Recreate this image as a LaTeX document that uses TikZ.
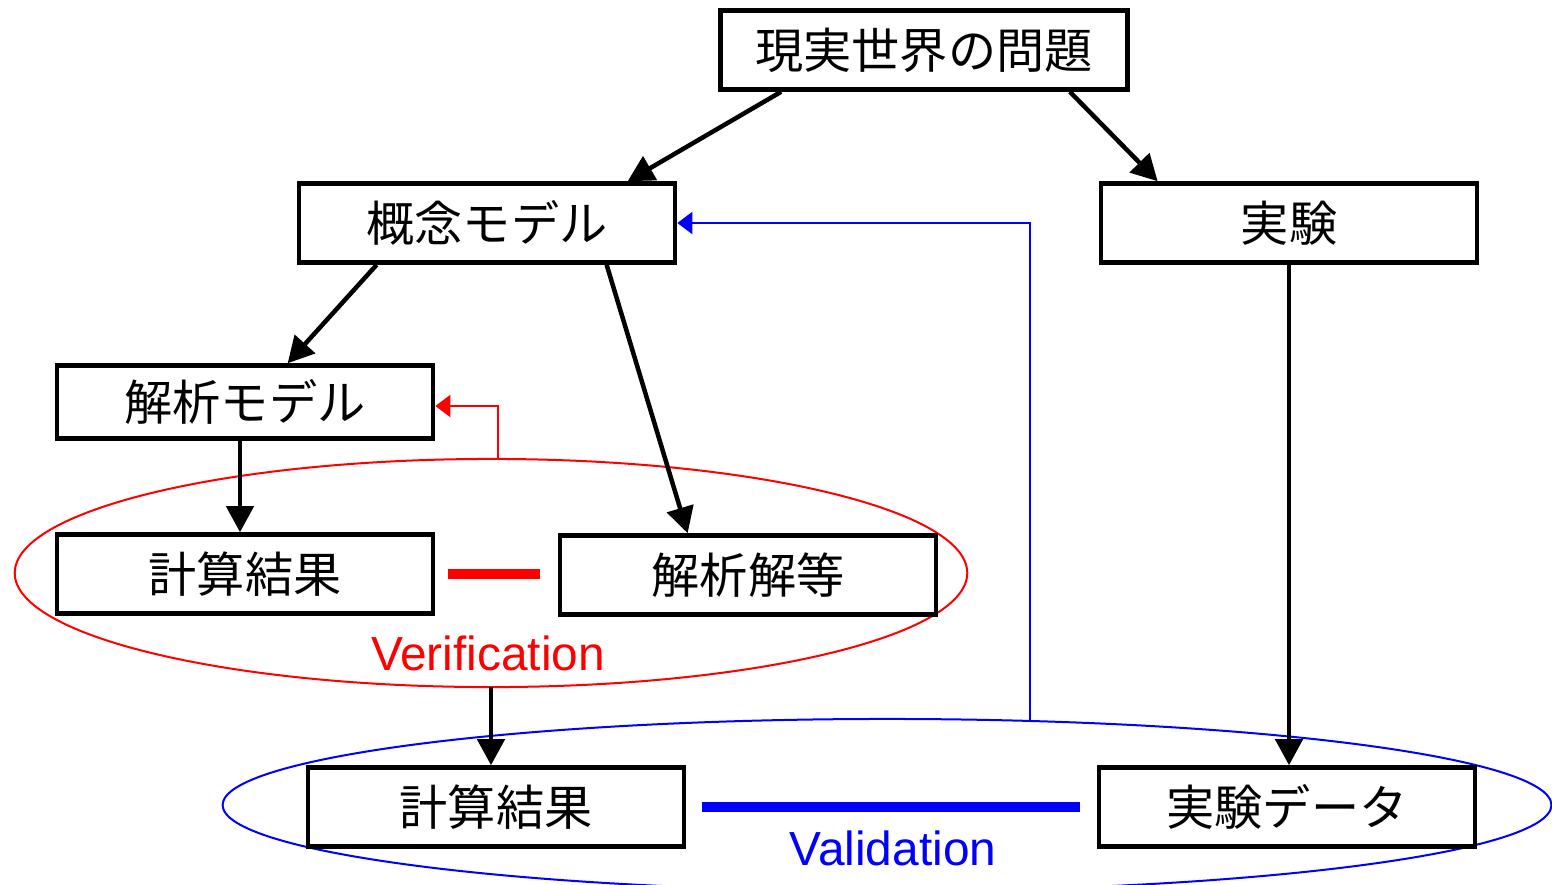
\documentclass[tikz,border=0pt]{standalone}
\usepackage{fontspec}
\setmainfont{Liberation Sans}
\newfontfamily\jpfont{Noto Sans CJK JP}
\usetikzlibrary{arrows.meta,shapes.geometric,calc}

\tikzset{
  box/.style={draw, line width=0.045cm, fill=white, inner sep=0pt,
    minimum width=3.76cm, minimum height=0.79cm,
    font=\jpfont\fontsize{13.7}{16}\selectfont},
  flow/.style={line width=0.045cm, -{Triangle[length=0.26cm,width=0.27cm]}},
  back/.style={line width=0.02cm, -{Triangle[length=0.15cm,width=0.22cm]}},
  ring/.style={ellipse, draw, line width=0.02cm, outer sep=0pt},
  tag/.style={font=\fontsize{13.6}{16}\selectfont, inner sep=0pt},
}

\begin{document}
\begin{tikzpicture}[x=0.01cm, y=-0.01cm]
    \useasboundingbox (0,0) rectangle (1552,884);

    \node[ring, red,  minimum width=9.52cm,  minimum height=2.28cm] (verif) at (491,573) {};
    \node[ring, blue, minimum width=13.28cm, minimum height=1.72cm] (valid) at (887,805) {};

    \node[box, minimum width=4.07cm] (problem) at (924,50)  {現実世界の問題};
    \node[box] (concept) at (487,223)  {概念モデル};
    \node[box] (exper)   at (1289,223) {実験};
    \node[box, minimum height=0.73cm] (model) at (245,402) {解析モデル};
    \node[box] (calcA)   at (245,574)  {計算結果};
    \node[box] (exact)   at (748,575)  {解析解等};
    \node[box] (calcB)   at (496,807)  {計算結果};
    \node[box] (data)    at (1287,807) {実験データ};

    \node[tag, red]  (verlabel) at (488,653) {Verification};
    \node[tag, blue] (vallabel) at (893,848) {Validation};

    \draw[flow] ($(problem.south west)+(63,0)$)  -- ($(concept.north west)+(331,0)$);
    \draw[flow] ($(problem.south east)+(-60,0)$) -- ($(exper.north west)+(59,0)$);
    \draw[flow] (exper.south) -- (exper.south |- data.north);
    \draw[flow] ($(concept.south west)+(80,0)$)  -- ($(model.north west)+(233,0)$);
    \draw[flow] ($(concept.south west)+(310,0)$) -- ($(exact.north west)+(130,0)$);
    \draw[flow] ($(model.south)+(-5,0)$) -- ($(calcA.north)+(-5,0)$);
    \draw[flow] (verif.south) -- (verif.south |- calcB.north);

    \draw[back, red]  ($(verif.north)+(7,0)$) |- ($(model.east)+(0,4)$);
    \draw[back, blue] ($(valid.north)+(143,2)$) |- (concept.east);

    \draw[red,  line width=0.1cm, shorten <=0.13cm, shorten >=0.18cm] (calcA.east) -- (calcA.east -| exact.west);
    \draw[blue, line width=0.1cm, shorten <=0.16cm, shorten >=0.17cm] (calcB.east) -- (calcB.east -| data.west);
\end{tikzpicture}
\end{document}
